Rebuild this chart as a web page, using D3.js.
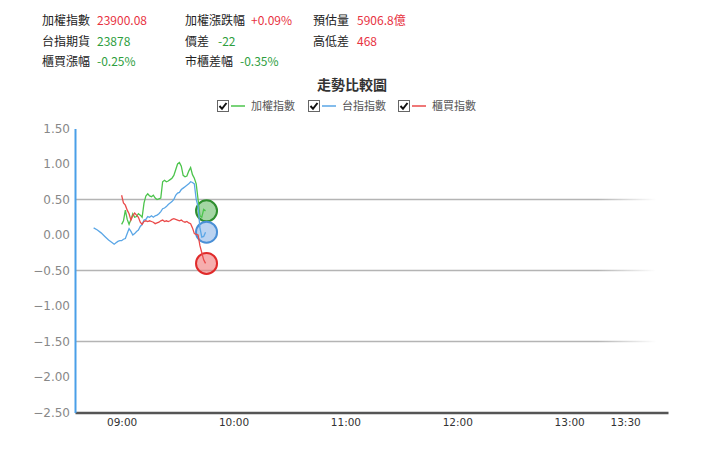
<!DOCTYPE html>
<html>
<head>
<meta charset="utf-8">
<script src="https://cdn.jsdelivr.net/npm/d3@7"></script>
<style>
  body { margin: 0; background: #fff; }
  svg text { font-family: "Noto Sans CJK TC", "DejaVu Sans", sans-serif; }
</style>
</head>
<body>
<div id="chart"></div>
<script>
// header quote rows: [label, value, colour]
const quoteRows = [
  [["加權指數", "23900.08", "up"], ["加權漲跌幅", "+0.09%", "up"], ["預估量", "5906.8億", "up"]],
  [["台指期貨", "23878", "down"], ["價差", "-22", "down"], ["高低差", "468", "up"]],
  [["櫃買漲幅", "-0.25%", "down"], ["市櫃差幅", "-0.35%", "down"]]
];

const seriesNames = ["加權指數", "台指期貨", "櫃買指數"];
const legendNames = ["加權指數", "台指指數", "櫃買指數"];

const xTicks = ["09:00", "10:00", "11:00", "12:00", "13:00", "13:30"];
const yTicks = [1.5, 1.0, 0.5, 0.0, -0.5, -1.0, -1.5, -2.0, -2.5];
const gridTicks = [0.5, -0.5, -1.5];

// 加權指數 (green), 09:00 - 09:45
const taiexTimes = ["09:00","09:01","09:02","09:03","09:04","09:05","09:06","09:07","09:08","09:09",
  "09:10","09:11","09:12","09:13","09:14","09:15","09:16","09:17","09:18","09:19",
  "09:20","09:21","09:22","09:23","09:24","09:25","09:26","09:27","09:28","09:29",
  "09:30","09:31","09:32","09:33","09:34","09:35","09:36","09:37","09:38","09:39",
  "09:40","09:41","09:42","09:43","09:44","09:45"];
const taiexValues = [0.15, 0.20, 0.35, 0.22, 0.15, 0.22, 0.30, 0.25, 0.26, 0.30,
  0.28, 0.25, 0.45, 0.55, 0.58, 0.55, 0.54, 0.56, 0.52, 0.50,
  0.51, 0.52, 0.75, 0.77, 0.75, 0.76, 0.78, 0.80, 0.84, 0.92,
  1.00, 1.02, 0.97, 0.84, 0.82, 0.83, 0.90, 0.95, 0.85, 0.80,
  0.72, 0.50, 0.27, 0.25, 0.36, 0.34];

// 台指期貨 (blue), 08:45 - 09:45
const futTimes = ["08:45","08:47","08:49","08:51","08:53","08:55","08:56","08:57","08:58","08:59",
  "09:00","09:01","09:02","09:03","09:04","09:05","09:06","09:07","09:08","09:09",
  "09:10","09:11","09:12","09:13","09:14","09:15","09:16","09:17","09:18","09:19",
  "09:20","09:21","09:22","09:23","09:24","09:25","09:26","09:27","09:28","09:29",
  "09:30","09:31","09:32","09:33","09:34","09:35","09:36","09:37","09:38","09:39",
  "09:40","09:41","09:42","09:43","09:44","09:45"];
const futValues = [0.10, 0.07, 0.03, -0.02, -0.07, -0.11, -0.13, -0.11, -0.09, -0.08,
  -0.08, -0.06, -0.05, 0.02, 0.09, 0.05, 0.00, 0.02, 0.05, 0.07,
  0.12, 0.15, 0.21, 0.22, 0.26, 0.25, 0.27, 0.25, 0.27, 0.28,
  0.30, 0.33, 0.37, 0.38, 0.40, 0.43, 0.45, 0.47, 0.50, 0.56,
  0.59, 0.60, 0.64, 0.66, 0.68, 0.70, 0.72, 0.75, 0.74, 0.72,
  0.50, 0.40, 0.10, -0.03, -0.02, 0.04];

// 櫃買指數 (red), 09:00 - 09:45
const otcTimes = taiexTimes;
const otcValues = [0.56, 0.45, 0.42, 0.35, 0.30, 0.21, 0.27, 0.31, 0.28, 0.25,
  0.18, 0.15, 0.19, 0.20, 0.19, 0.20, 0.19, 0.18, 0.16, 0.17,
  0.18, 0.20, 0.21, 0.19, 0.20, 0.19, 0.20, 0.22, 0.23, 0.22,
  0.21, 0.20, 0.21, 0.19, 0.18, 0.19, 0.17, 0.16, 0.10, 0.02,
  0.01, 0.00, -0.15, -0.25, -0.35, -0.40];

const parseTime = d3.timeParse("%H:%M");

const series = [
  { name: seriesNames[0], times: taiexTimes, values: taiexValues, color: "#4cc44c", dot: "#2f8f2f", fill: "rgba(90,180,90,0.55)" },
  { name: seriesNames[1], times: futTimes, values: futValues, color: "#5aa6e6", dot: "#4a8fd6", fill: "rgba(170,200,238,0.8)" },
  { name: seriesNames[2], times: otcTimes, values: otcValues, color: "#ea4a4a", dot: "#e02a2a", fill: "rgba(240,120,120,0.6)" }
].map(s => ({ ...s, points: s.times.map((t, i) => ({ t: parseTime(t), v: s.values[i] })) }));

const svg = d3.select("#chart")
  .append("svg")
    .attr("width", 720)
    .attr("height", 458);

// header
const colX = [42, 185, 313];
const colValX = [[97, 97, 97], [251, 218, 240], [357, 357]];
const rowY = [24.5, 45.5, 65.5];

quoteRows.forEach((row, r) => {
  row.forEach((cell, c) => {
    svg.append("text")
      .attr("x", colX[c])
      .attr("y", rowY[r])
      .attr("fill", "#222")
      .style("font-size", "12px")
      .text(cell[0]);
    svg.append("text")
      .attr("x", colValX[c][r])
      .attr("y", rowY[r])
      .attr("fill", cell[2] === "up" ? "#e8333f" : "#2e9e3e")
      .style("font-size", "12px")
      .text(cell[1]);
  });
});

// title
svg.append("text")
  .attr("x", 352)
  .attr("y", 90)
  .attr("text-anchor", "middle")
  .attr("fill", "#333")
  .style("font-size", "14px")
  .style("font-weight", "bold")
  .text("走勢比較圖");

// legend
const legendX = [217, 308, 398];
const legend = svg.selectAll(".legend")
  .data(series)
  .join("g")
    .attr("class", "legend")
    .attr("transform", (d, i) => `translate(${legendX[i]}, 100)`);

legend.append("rect")
  .attr("x", 0.5).attr("y", 0.5)
  .attr("width", 11).attr("height", 11)
  .attr("fill", "#fff")
  .attr("stroke", "#666");

legend.append("path")
  .attr("d", "M2.5,6 L5,8.8 L9.5,3")
  .attr("fill", "none")
  .attr("stroke", "#111")
  .attr("stroke-width", 2);

legend.append("line")
  .attr("x1", 14).attr("x2", 28)
  .attr("y1", 6).attr("y2", 6)
  .attr("stroke", d => d.color)
  .attr("stroke-width", 1.5);

legend.append("text")
  .text((d, i) => legendNames[i])
  .attr("x", 34)
  .attr("y", 10)
  .attr("fill", "#555")
  .style("font-size", "11px");

// scales
const xScale = d3.scaleTime()
  .domain([parseTime("08:35"), parseTime("13:53")])
  .range([75, 668]);

const yScale = d3.scaleLinear()
  .domain([-2.5, 1.5])
  .range([412.5, 128.5]);

// grid lines, faded at the right
const grad = svg.append("defs").append("linearGradient")
  .attr("id", "gridFade")
  .attr("gradientUnits", "userSpaceOnUse")
  .attr("x1", 75).attr("x2", 656).attr("y1", 0).attr("y2", 0);
grad.append("stop").attr("offset", "0.9").attr("stop-color", "#b4b4b4");
grad.append("stop").attr("offset", "1").attr("stop-color", "#ffffff");

svg.append("g")
  .selectAll("rect")
  .data(gridTicks)
  .join("rect")
    .attr("x", 75)
    .attr("y", d => yScale(d) - 0.75)
    .attr("width", 581)
    .attr("height", 1.5)
    .attr("fill", "url(#gridFade)");

// x axis
const xAxis = svg.append("g")
  .attr("transform", "translate(0, 412.5)")
  .call(d3.axisBottom(xScale)
    .tickValues(xTicks.map(parseTime))
    .tickFormat(d3.timeFormat("%H:%M"))
    .tickSize(0)
    .tickPadding(6));
xAxis.select(".domain").attr("stroke", "#555").attr("stroke-width", 2.5);
xAxis.selectAll("text")
  .attr("fill", "#333")
  .style("font-family", "'DejaVu Sans', sans-serif")
  .style("font-size", "10.5px");

// y axis
const yAxis = svg.append("g")
  .attr("transform", "translate(75, 0)")
  .call(d3.axisLeft(yScale)
    .tickValues(yTicks)
    .tickFormat(d3.format(".2f"))
    .tickSize(0)
    .tickPadding(5));
yAxis.select(".domain").attr("stroke", "#4a9fe8").attr("stroke-width", 2);
yAxis.selectAll("text")
  .attr("fill", "#888")
  .style("font-family", "'DejaVu Sans', sans-serif")
  .style("font-size", "12px");

// lines
const line = d3.line()
  .x(d => xScale(d.t))
  .y(d => yScale(d.v));

// end markers
svg.append("g")
  .selectAll("circle")
  .data(series)
  .join("circle")
    .attr("cx", d => xScale(d.points[d.points.length - 1].t) + 1)
    .attr("cy", d => yScale(d.points[d.points.length - 1].v))
    .attr("r", 10.5)
    .attr("fill", d => d.fill)
    .attr("stroke", d => d.dot)
    .attr("stroke-width", 2);

svg.append("g")
  .selectAll("path")
  .data(series)
  .join("path")
    .attr("d", d => line(d.points))
    .attr("fill", "none")
    .attr("stroke", d => d.color)
    .attr("stroke-width", 1.3);
</script>
</body>
</html>
